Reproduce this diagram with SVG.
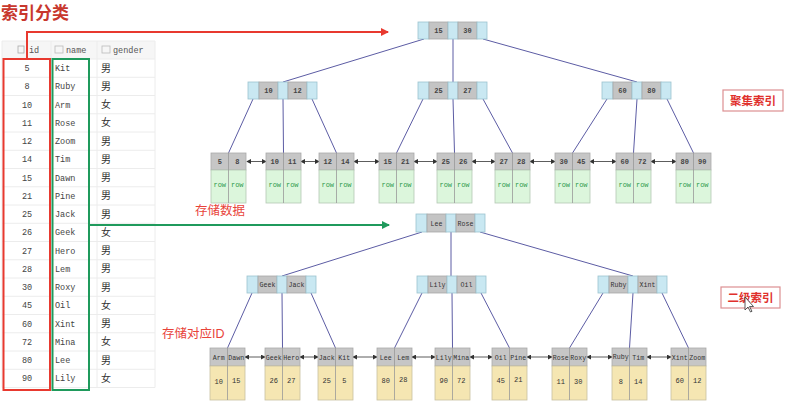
<svg xmlns="http://www.w3.org/2000/svg" width="796" height="404" viewBox="0 0 796 404">
<defs>
<style>
.b{fill:#c9e8f2;stroke:#9cc3cf;stroke-width:0.8}
.g{fill:#c4c4c4;stroke:#a9a9a9;stroke-width:0.8}
.lh{fill:#c6c6c6;stroke:#aaa;stroke-width:0.8}
.lgr{fill:#dcf6dc;stroke:#b5c9b5;stroke-width:0.8}
.ly{fill:#f5e6b2;stroke:#c9c0a0;stroke-width:0.8}
.dv{stroke:#999;stroke-width:0.8}
.k{font-family:"Liberation Mono",monospace;font-size:7px;font-weight:bold;fill:#444;text-anchor:middle}
.kn{font-family:"Liberation Mono",monospace;font-size:6.6px;fill:#333;text-anchor:middle}
.row{font-family:"Liberation Mono",monospace;font-size:7px;fill:#2e9a4e;text-anchor:middle}
.num{font-family:"Liberation Mono",monospace;font-size:7px;fill:#333;text-anchor:middle}
.e{stroke:#5c5ca4;stroke-width:1;fill:none}
.la{stroke:#333;stroke-width:0.8;marker-start:url(#ah);marker-end:url(#ah)}
.red{font-family:"Liberation Sans","Noto Sans CJK SC",sans-serif;font-size:12.5px;fill:#e8433a}
.tag{fill:#fff;stroke:#dc8f92;stroke-width:1.2}
.tagt{font-family:"Liberation Sans","Noto Sans CJK SC",sans-serif;font-size:11.5px;fill:#e0302c;text-anchor:middle;font-weight:bold}
.grid{stroke:#ececec;stroke-width:1}
.tid{font-family:"Liberation Mono",monospace;font-size:8.5px;fill:#444;text-anchor:middle}
.tnm{font-family:"Liberation Mono",monospace;font-size:8.5px;fill:#444}
.tg{font-family:"Noto Sans CJK SC",sans-serif;font-size:10px;fill:#333}
.th{font-family:"Liberation Mono",monospace;font-size:8.5px;fill:#555}
</style>
<marker id="ah" viewBox="0 0 6 6" refX="5" refY="3" markerWidth="5" markerHeight="5" orient="auto-start-reverse" markerUnits="userSpaceOnUse"><path d="M0,0 L6,3 L0,6 z" fill="#333"/></marker>
<marker id="ar" viewBox="0 0 8 8" refX="7" refY="4" markerWidth="8" markerHeight="8" orient="auto" markerUnits="userSpaceOnUse"><path d="M0,0 L8,4 L0,8 z" fill="#e8392f"/></marker>
<marker id="ag" viewBox="0 0 8 8" refX="7" refY="4" markerWidth="8" markerHeight="8" orient="auto" markerUnits="userSpaceOnUse"><path d="M0,0 L8,4 L0,8 z" fill="#1f9a5c"/></marker>
</defs>
<rect width="796" height="404" fill="#fff"/>

<text x="1" y="19" font-family="'Noto Sans CJK SC',sans-serif" font-size="17" font-weight="bold" fill="#c8372d">索引分类</text>

<g id="table">
<rect x="2" y="41" width="153" height="18" fill="#f6f6f6"/>
<g class="grid">
<line x1="2" y1="41" x2="155" y2="41"/>
<line x1="2" y1="59" x2="155" y2="59"/><line x1="2" y1="77.25" x2="155" y2="77.25"/><line x1="2" y1="95.5" x2="155" y2="95.5"/><line x1="2" y1="113.75" x2="155" y2="113.75"/><line x1="2" y1="132" x2="155" y2="132"/><line x1="2" y1="150.25" x2="155" y2="150.25"/><line x1="2" y1="168.5" x2="155" y2="168.5"/><line x1="2" y1="186.75" x2="155" y2="186.75"/><line x1="2" y1="205" x2="155" y2="205"/><line x1="2" y1="223.25" x2="155" y2="223.25"/><line x1="2" y1="241.5" x2="155" y2="241.5"/><line x1="2" y1="259.75" x2="155" y2="259.75"/><line x1="2" y1="278" x2="155" y2="278"/><line x1="2" y1="296.25" x2="155" y2="296.25"/><line x1="2" y1="314.5" x2="155" y2="314.5"/><line x1="2" y1="332.75" x2="155" y2="332.75"/><line x1="2" y1="351" x2="155" y2="351"/><line x1="2" y1="369.25" x2="155" y2="369.25"/><line x1="2" y1="387.5" x2="155" y2="387.5"/>
<line x1="2" y1="41" x2="2" y2="387.5"/><line x1="51" y1="41" x2="51" y2="387.5"/><line x1="97" y1="41" x2="97" y2="387.5"/><line x1="155" y1="41" x2="155" y2="387.5"/>
</g>
<rect x="18" y="46" width="6" height="7" fill="none" stroke="#aaa" stroke-width="0.8"/>
<rect x="55" y="46" width="8" height="7" fill="none" stroke="#bbb" stroke-width="0.8"/>
<rect x="102" y="46" width="8" height="7" fill="none" stroke="#bbb" stroke-width="0.8"/>
<text class="th" x="29" y="53">id</text>
<text class="th" x="66" y="53">name</text>
<text class="th" x="113" y="53">gender</text>
<g class="tid">
<text x="27" y="71">5</text><text x="27" y="89.25">8</text><text x="27" y="107.5">10</text><text x="27" y="125.75">11</text><text x="27" y="144">12</text><text x="27" y="162.25">14</text><text x="27" y="180.5">15</text><text x="27" y="198.75">21</text><text x="27" y="217">25</text><text x="27" y="235.25">26</text><text x="27" y="253.5">27</text><text x="27" y="271.75">28</text><text x="27" y="290">30</text><text x="27" y="308.25">45</text><text x="27" y="326.5">60</text><text x="27" y="344.75">72</text><text x="27" y="363">80</text><text x="27" y="381.25">90</text>
</g>
<g class="tnm">
<text x="55" y="71">Kit</text><text x="55" y="89.25">Ruby</text><text x="55" y="107.5">Arm</text><text x="55" y="125.75">Rose</text><text x="55" y="144">Zoom</text><text x="55" y="162.25">Tim</text><text x="55" y="180.5">Dawn</text><text x="55" y="198.75">Pine</text><text x="55" y="217">Jack</text><text x="55" y="235.25">Geek</text><text x="55" y="253.5">Hero</text><text x="55" y="271.75">Lem</text><text x="55" y="290">Roxy</text><text x="55" y="308.25">Oil</text><text x="55" y="326.5">Xint</text><text x="55" y="344.75">Mina</text><text x="55" y="363">Lee</text><text x="55" y="381.25">Lily</text>
</g>
<g class="tg">
<text x="101" y="71.5">男</text><text x="101" y="89.75">男</text><text x="101" y="108">女</text><text x="101" y="126.25">女</text><text x="101" y="144.5">男</text><text x="101" y="162.75">男</text><text x="101" y="181">男</text><text x="101" y="199.25">男</text><text x="101" y="217.5">男</text><text x="101" y="235.75">女</text><text x="101" y="254">男</text><text x="101" y="272.25">男</text><text x="101" y="290.5">男</text><text x="101" y="308.75">女</text><text x="101" y="327">男</text><text x="101" y="345.25">女</text><text x="101" y="363.5">男</text><text x="101" y="381.75">女</text>
</g>
<rect x="3.5" y="59" width="46.5" height="331" fill="none" stroke="#e8392f" stroke-width="2"/>
<rect x="52.5" y="59" width="36.5" height="331" fill="none" stroke="#1f9a5c" stroke-width="2"/>
</g>

<g id="connectors">
<path d="M27,59 V32 H388" fill="none" stroke="#e8392f" stroke-width="2" marker-end="url(#ar)"/>
<path d="M89,225 H389" fill="none" stroke="#1f9a5c" stroke-width="2" marker-end="url(#ag)"/>
<!-- clustered tree -->
<line class="e" x1="424" y1="39" x2="283" y2="82"/>
<line class="e" x1="453" y1="39" x2="453" y2="82" stroke="#8888a8"/>
<line class="e" x1="483" y1="39" x2="637" y2="82"/>
<line class="e" x1="253" y1="99" x2="228.5" y2="153"/>
<line class="e" x1="283" y1="99" x2="283.5" y2="153"/>
<line class="e" x1="312" y1="99" x2="336.5" y2="153"/>
<line class="e" x1="423" y1="99" x2="396.5" y2="153"/>
<line class="e" x1="453" y1="99" x2="454.5" y2="153"/>
<line class="e" x1="483" y1="99" x2="512.5" y2="153"/>
<line class="e" x1="607" y1="99" x2="572.5" y2="153"/>
<line class="e" x1="637" y1="99" x2="633.5" y2="153"/>
<line class="e" x1="667" y1="99" x2="693.5" y2="153"/>
<line class="la" x1="247" y1="161.5" x2="266" y2="161.5"/>
<line class="la" x1="301" y1="161.5" x2="319" y2="161.5"/>
<line class="la" x1="354" y1="161.5" x2="379" y2="161.5"/>
<line class="la" x1="414" y1="161.5" x2="437" y2="161.5"/>
<line class="la" x1="472" y1="161.5" x2="495" y2="161.5"/>
<line class="la" x1="530" y1="161.5" x2="555" y2="161.5"/>
<line class="la" x1="590" y1="161.5" x2="616" y2="161.5"/>
<line class="la" x1="651" y1="161.5" x2="676" y2="161.5"/>
<!-- secondary tree -->
<line class="e" x1="422" y1="232" x2="282" y2="276"/>
<line class="e" x1="451" y1="232" x2="451" y2="276"/>
<line class="e" x1="480" y1="232" x2="633" y2="276"/>
<line class="e" x1="252" y1="293" x2="227.5" y2="348"/>
<line class="e" x1="282" y1="293" x2="282.5" y2="348"/>
<line class="e" x1="311" y1="293" x2="335.5" y2="348"/>
<line class="e" x1="422" y1="293" x2="394.5" y2="348"/>
<line class="e" x1="452" y1="293" x2="452.5" y2="348"/>
<line class="e" x1="481" y1="293" x2="509.5" y2="348"/>
<line class="e" x1="603" y1="293" x2="569.5" y2="348"/>
<line class="e" x1="633" y1="293" x2="629.5" y2="348"/>
<line class="e" x1="662" y1="293" x2="688.5" y2="348"/>
<line class="la" x1="245" y1="357" x2="265" y2="357"/>
<line class="la" x1="300" y1="357" x2="318" y2="357"/>
<line class="la" x1="353" y1="357" x2="377" y2="357"/>
<line class="la" x1="412" y1="357" x2="435" y2="357"/>
<line class="la" x1="470" y1="357" x2="492" y2="357"/>
<line class="la" x1="527" y1="357" x2="552" y2="357"/>
<line class="la" x1="587" y1="357" x2="612" y2="357"/>
<line class="la" x1="647" y1="357" x2="671" y2="357"/>
</g>

<!-- clustered index internal nodes -->
<g id="c-root" transform="translate(418,22)"><rect class="b" width="11" height="17"/><rect class="g" x="11" width="19" height="17"/><rect class="b" x="30" width="10" height="17"/><rect class="g" x="40" width="19" height="17"/><rect class="b" x="59" width="10" height="17"/><text class="k" x="20.5" y="11">15</text><text class="k" x="49.5" y="11">30</text></g>
<g id="c-n1" transform="translate(248,82)"><rect class="b" width="11" height="17"/><rect class="g" x="11" width="19" height="17"/><rect class="b" x="30" width="10" height="17"/><rect class="g" x="40" width="19" height="17"/><rect class="b" x="59" width="10" height="17"/><text class="k" x="20.5" y="11">10</text><text class="k" x="49.5" y="11">12</text></g>
<g id="c-n2" transform="translate(418,82)"><rect class="b" width="11" height="17"/><rect class="g" x="11" width="19" height="17"/><rect class="b" x="30" width="10" height="17"/><rect class="g" x="40" width="19" height="17"/><rect class="b" x="59" width="10" height="17"/><text class="k" x="20.5" y="11">25</text><text class="k" x="49.5" y="11">27</text></g>
<g id="c-n3" transform="translate(602,82)"><rect class="b" width="11" height="17"/><rect class="g" x="11" width="19" height="17"/><rect class="b" x="30" width="10" height="17"/><rect class="g" x="40" width="19" height="17"/><rect class="b" x="59" width="10" height="17"/><text class="k" x="20.5" y="11">60</text><text class="k" x="49.5" y="11">80</text></g>

<!-- clustered leaves -->
<g id="c-l1" transform="translate(211,153)"><rect class="lh" width="35" height="17"/><rect class="lgr" y="17" width="35" height="33"/><line class="dv" x1="17.5" y1="0" x2="17.5" y2="50"/><text class="k" x="8.75" y="11">5</text><text class="k" x="26.25" y="11">8</text><text class="row" x="8.75" y="34">row</text><text class="row" x="26.25" y="34">row</text></g>
<g id="c-l2" transform="translate(266,153)"><rect class="lh" width="35" height="17"/><rect class="lgr" y="17" width="35" height="33"/><line class="dv" x1="17.5" y1="0" x2="17.5" y2="50"/><text class="k" x="8.75" y="11">10</text><text class="k" x="26.25" y="11">11</text><text class="row" x="8.75" y="34">row</text><text class="row" x="26.25" y="34">row</text></g>
<g id="c-l3" transform="translate(319,153)"><rect class="lh" width="35" height="17"/><rect class="lgr" y="17" width="35" height="33"/><line class="dv" x1="17.5" y1="0" x2="17.5" y2="50"/><text class="k" x="8.75" y="11">12</text><text class="k" x="26.25" y="11">14</text><text class="row" x="8.75" y="34">row</text><text class="row" x="26.25" y="34">row</text></g>
<g id="c-l4" transform="translate(379,153)"><rect class="lh" width="35" height="17"/><rect class="lgr" y="17" width="35" height="33"/><line class="dv" x1="17.5" y1="0" x2="17.5" y2="50"/><text class="k" x="8.75" y="11">15</text><text class="k" x="26.25" y="11">21</text><text class="row" x="8.75" y="34">row</text><text class="row" x="26.25" y="34">row</text></g>
<g id="c-l5" transform="translate(437,153)"><rect class="lh" width="35" height="17"/><rect class="lgr" y="17" width="35" height="33"/><line class="dv" x1="17.5" y1="0" x2="17.5" y2="50"/><text class="k" x="8.75" y="11">25</text><text class="k" x="26.25" y="11">26</text><text class="row" x="8.75" y="34">row</text><text class="row" x="26.25" y="34">row</text></g>
<g id="c-l6" transform="translate(495,153)"><rect class="lh" width="35" height="17"/><rect class="lgr" y="17" width="35" height="33"/><line class="dv" x1="17.5" y1="0" x2="17.5" y2="50"/><text class="k" x="8.75" y="11">27</text><text class="k" x="26.25" y="11">28</text><text class="row" x="8.75" y="34">row</text><text class="row" x="26.25" y="34">row</text></g>
<g id="c-l7" transform="translate(555,153)"><rect class="lh" width="35" height="17"/><rect class="lgr" y="17" width="35" height="33"/><line class="dv" x1="17.5" y1="0" x2="17.5" y2="50"/><text class="k" x="8.75" y="11">30</text><text class="k" x="26.25" y="11">45</text><text class="row" x="8.75" y="34">row</text><text class="row" x="26.25" y="34">row</text></g>
<g id="c-l8" transform="translate(616,153)"><rect class="lh" width="35" height="17"/><rect class="lgr" y="17" width="35" height="33"/><line class="dv" x1="17.5" y1="0" x2="17.5" y2="50"/><text class="k" x="8.75" y="11">60</text><text class="k" x="26.25" y="11">72</text><text class="row" x="8.75" y="34">row</text><text class="row" x="26.25" y="34">row</text></g>
<g id="c-l9" transform="translate(676,153)"><rect class="lh" width="35" height="17"/><rect class="lgr" y="17" width="35" height="33"/><line class="dv" x1="17.5" y1="0" x2="17.5" y2="50"/><text class="k" x="8.75" y="11">80</text><text class="k" x="26.25" y="11">90</text><text class="row" x="8.75" y="34">row</text><text class="row" x="26.25" y="34">row</text></g>

<!-- secondary index internal nodes -->
<g id="s-root" transform="translate(416,214)"><rect class="b" width="11" height="18"/><rect class="g" x="11" width="19" height="18"/><rect class="b" x="30" width="10" height="18"/><rect class="g" x="40" width="19" height="18"/><rect class="b" x="59" width="10" height="18"/><text class="kn" x="20.5" y="11.5">Lee</text><text class="kn" x="49.5" y="11.5">Rose</text></g>
<g id="s-n1" transform="translate(247,276)"><rect class="b" width="11" height="17"/><rect class="g" x="11" width="19" height="17"/><rect class="b" x="30" width="10" height="17"/><rect class="g" x="40" width="19" height="17"/><rect class="b" x="59" width="10" height="17"/><text class="kn" x="20.5" y="11">Geek</text><text class="kn" x="49.5" y="11">Jack</text></g>
<g id="s-n2" transform="translate(417,276)"><rect class="b" width="11" height="17"/><rect class="g" x="11" width="19" height="17"/><rect class="b" x="30" width="10" height="17"/><rect class="g" x="40" width="19" height="17"/><rect class="b" x="59" width="10" height="17"/><text class="kn" x="20.5" y="11">Lily</text><text class="kn" x="49.5" y="11">Oil</text></g>
<g id="s-n3" transform="translate(598,276)"><rect class="b" width="11" height="17"/><rect class="g" x="11" width="19" height="17"/><rect class="b" x="30" width="10" height="17"/><rect class="g" x="40" width="19" height="17"/><rect class="b" x="59" width="10" height="17"/><text class="kn" x="20.5" y="11">Ruby</text><text class="kn" x="49.5" y="11">Xint</text></g>

<!-- secondary leaves -->
<g id="s-l1" transform="translate(210,348)"><rect class="lh" width="35" height="18"/><rect class="ly" y="18" width="35" height="34"/><line class="dv" x1="17.5" y1="0" x2="17.5" y2="52"/><text class="kn" x="8.75" y="11.5">Arm</text><text class="kn" x="26.25" y="11.5">Dawn</text><text class="num" x="8.75" y="36">10</text><text class="num" x="26.25" y="35">15</text></g>
<g id="s-l2" transform="translate(265,348)"><rect class="lh" width="35" height="18"/><rect class="ly" y="18" width="35" height="34"/><line class="dv" x1="17.5" y1="0" x2="17.5" y2="52"/><text class="kn" x="8.75" y="11.5">Geek</text><text class="kn" x="26.25" y="11.5">Hero</text><text class="num" x="8.75" y="35">26</text><text class="num" x="26.25" y="35">27</text></g>
<g id="s-l3" transform="translate(318,348)"><rect class="lh" width="35" height="18"/><rect class="ly" y="18" width="35" height="34"/><line class="dv" x1="17.5" y1="0" x2="17.5" y2="52"/><text class="kn" x="8.75" y="11.5">Jack</text><text class="kn" x="26.25" y="11.5">Kit</text><text class="num" x="8.75" y="35">25</text><text class="num" x="26.25" y="35">5</text></g>
<g id="s-l4" transform="translate(377,348)"><rect class="lh" width="35" height="18"/><rect class="ly" y="18" width="35" height="34"/><line class="dv" x1="17.5" y1="0" x2="17.5" y2="52"/><text class="kn" x="8.75" y="11.5">Lee</text><text class="kn" x="26.25" y="11.5">Lem</text><text class="num" x="8.75" y="35">80</text><text class="num" x="26.25" y="34">28</text></g>
<g id="s-l5" transform="translate(435,348)"><rect class="lh" width="35" height="18"/><rect class="ly" y="18" width="35" height="34"/><line class="dv" x1="17.5" y1="0" x2="17.5" y2="52"/><text class="kn" x="8.75" y="11.5">Lily</text><text class="kn" x="26.25" y="11.5">Mina</text><text class="num" x="8.75" y="35">90</text><text class="num" x="26.25" y="35">72</text></g>
<g id="s-l6" transform="translate(492,348)"><rect class="lh" width="35" height="18"/><rect class="ly" y="18" width="35" height="34"/><line class="dv" x1="17.5" y1="0" x2="17.5" y2="52"/><text class="kn" x="8.75" y="11.5">Oil</text><text class="kn" x="26.25" y="11.5">Pine</text><text class="num" x="8.75" y="35">45</text><text class="num" x="26.25" y="34">21</text></g>
<g id="s-l7" transform="translate(552,348)"><rect class="lh" width="35" height="18"/><rect class="ly" y="18" width="35" height="34"/><line class="dv" x1="17.5" y1="0" x2="17.5" y2="52"/><text class="kn" x="8.75" y="11.5">Rose</text><text class="kn" x="26.25" y="11.5">Roxy</text><text class="num" x="8.75" y="36">11</text><text class="num" x="26.25" y="36">30</text></g>
<g id="s-l8" transform="translate(612,348)"><rect class="lh" width="35" height="18"/><rect class="ly" y="18" width="35" height="34"/><line class="dv" x1="17.5" y1="0" x2="17.5" y2="52"/><text class="kn" x="8.75" y="11">Ruby</text><text class="kn" x="26.25" y="11.5">Tim</text><text class="num" x="8.75" y="36">8</text><text class="num" x="26.25" y="36">14</text></g>
<g id="s-l9" transform="translate(671,348)"><rect class="lh" width="35" height="18"/><rect class="ly" y="18" width="35" height="34"/><line class="dv" x1="17.5" y1="0" x2="17.5" y2="52"/><text class="kn" x="8.75" y="11.5">Xint</text><text class="kn" x="26.25" y="11.5">Zoom</text><text class="num" x="8.75" y="35">60</text><text class="num" x="26.25" y="35">12</text></g>

<!-- labels -->
<text class="red" x="195" y="215">存储数据</text>
<text class="red" x="162" y="338">存储对应ID</text>
<g id="tag-clustered"><rect class="tag" x="723" y="90" width="60" height="21"/><text class="tagt" x="753" y="105">聚集索引</text></g>
<g id="tag-secondary"><rect class="tag" x="721" y="287" width="59" height="21"/><text class="tagt" x="750.5" y="302">二级索引</text></g>
<path d="M745,297 L745,310 L748,307 L750.5,312 L752,311.3 L749.5,306.5 L753.5,306.5 Z" fill="#fff" stroke="#333" stroke-width="0.8"/>
</svg>
